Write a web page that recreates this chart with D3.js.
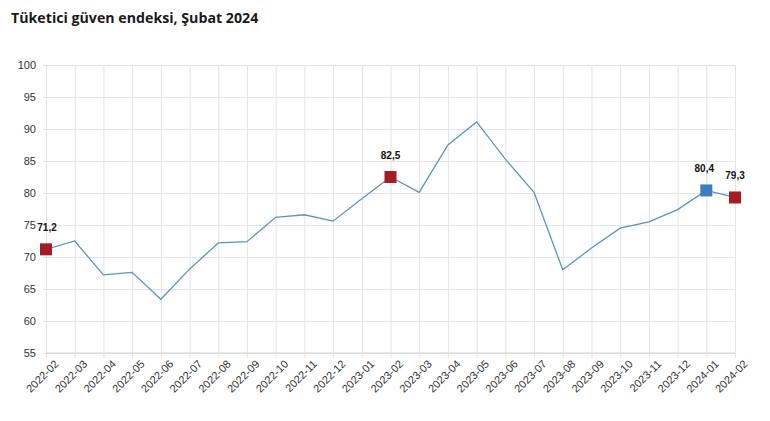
<!DOCTYPE html>
<html>
<head>
<meta charset="utf-8">
<script src="https://cdn.jsdelivr.net/npm/d3@7"></script>
<style>
  body { margin: 0; background: #fff; }
  svg { font-family: "Open Sans", sans-serif; }
  .grid line { stroke: #e3e3e3; }
  .grid path { stroke: none; }
  .axis text { fill: #333; font-size: 11px; }
</style>
</head>
<body>
<svg id="chart"></svg>
<script>
const width = 770;
const height = 421;
const margin = {top: 65, right: 35, bottom: 68, left: 46};

const months = ["2022-02", "2022-03", "2022-04", "2022-05", "2022-06", "2022-07", "2022-08",
    "2022-09", "2022-10", "2022-11", "2022-12", "2023-01", "2023-02", "2023-03", "2023-04",
    "2023-05", "2023-06", "2023-07", "2023-08", "2023-09", "2023-10", "2023-11", "2023-12",
    "2024-01", "2024-02"];
const values = [71.2, 72.5, 67.2, 67.6, 63.4, 68.1, 72.2, 72.4, 76.2, 76.6, 75.6, 79.1, 82.5,
    80.1, 87.5, 91.1, 85.3, 80.1, 68.0, 71.4, 74.5, 75.5, 77.4, 80.4, 79.3];
const yTicks = [55, 60, 65, 70, 75, 80, 85, 90, 95, 100];

// highlighted points: month, colour, label
const marked = [
    {month: "2022-02", color: "#a51c24", label: "71,2", dx: 1},
    {month: "2023-02", color: "#a51c24", label: "82,5", dx: 0},
    {month: "2024-01", color: "#3b7fc0", label: "80,4", dx: -2},
    {month: "2024-02", color: "#a51c24", label: "79,3", dx: 0}
];

const svg = d3.select("#chart").attr("width", width).attr("height", height);

svg.append("text")
    .attr("x", 11).attr("y", 23)
    .attr("font-size", 14.2).attr("font-weight", "bold").attr("fill", "#1a1a1a")
    .text("Tüketici güven endeksi, Şubat 2024");

const x = d3.scalePoint().domain(months).range([margin.left, width - margin.right]);
const y = d3.scaleLinear().domain([55, 100]).range([height - margin.bottom, margin.top]);

// horizontal grid + y labels
svg.append("g")
    .attr("class", "grid axis")
    .attr("transform", "translate(" + margin.left + ",0)")
    .call(d3.axisLeft(y).tickValues(yTicks).tickSize(-(width - margin.left - margin.right)).tickPadding(10))
    .call(g => g.selectAll(".tick line").attr("x1", -3));

// vertical grid + x labels
const xAxis = svg.append("g")
    .attr("class", "grid axis")
    .attr("transform", "translate(0," + (height - margin.bottom) + ")")
    .call(d3.axisBottom(x).tickSize(-(height - margin.top - margin.bottom)).tickPadding(6))
    .call(g => g.selectAll(".tick line").attr("y1", 5));

xAxis.selectAll("text")
    .attr("text-anchor", "end")
    .attr("dx", "0.2em")
    .attr("dy", "0.9em")
    .attr("transform", "translate(0,2) rotate(-45)");

svg.append("line")
    .attr("x1", margin.left).attr("x2", width - margin.right)
    .attr("y1", y(55)).attr("y2", y(55))
    .attr("stroke", "#d4d4d4");

const line = d3.line()
    .x((d, i) => x(months[i]))
    .y(d => y(d));

svg.append("path")
    .datum(values)
    .attr("fill", "none")
    .attr("stroke", "#5b93bf")
    .attr("stroke-width", 1.3)
    .attr("d", line);

const size = 12;
marked.forEach(m => {
    const v = values[months.indexOf(m.month)];
    svg.append("rect")
        .attr("x", x(m.month) - size / 2)
        .attr("y", y(v) - size / 2)
        .attr("width", size).attr("height", size)
        .attr("fill", m.color);
    svg.append("text")
        .attr("x", x(m.month) + m.dx)
        .attr("y", y(v) - 18)
        .attr("text-anchor", "middle")
        .attr("font-family", "Liberation Sans, Arial, sans-serif")
        .attr("font-size", 10).attr("font-weight", "bold").attr("fill", "#111")
        .text(m.label);
});
</script>
</body>
</html>
